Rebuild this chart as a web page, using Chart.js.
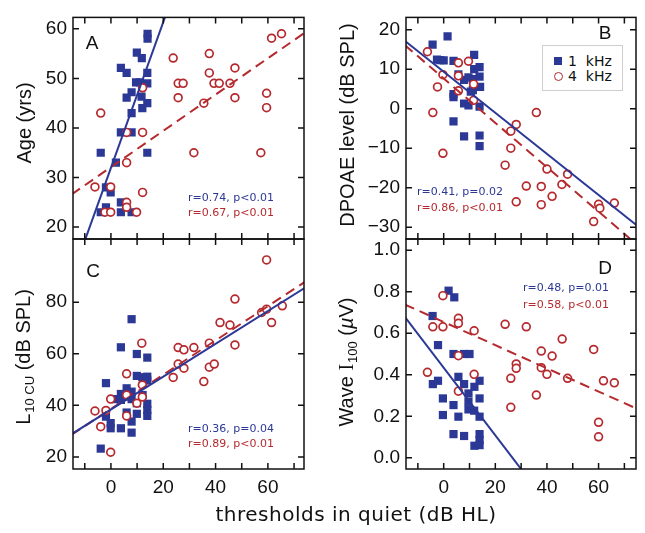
<!DOCTYPE html>
<html>
<head>
<meta charset="utf-8">
<script src="https://cdn.jsdelivr.net/npm/chart.js@4.4.0/dist/chart.umd.min.js"></script>
<style>
  body { margin: 0; background: #fff; }
  #fig { position: relative; width: 645px; height: 533px; overflow: hidden; font-family: "Liberation Sans", Arial, sans-serif; color: #111; }
  #fig canvas { position: absolute; left: 0; top: 0; }
  .ytitle { position: absolute; white-space: nowrap; font-size: 20px; line-height: 1; transform: translate(-50%, -50%) rotate(-90deg); }
  .ytitle sub { font-size: 13px; vertical-align: -4px; margin-left: 1px; }
  .letter { position: absolute; font-size: 19px; line-height: 1; transform: translate(-50%, -50%); }
  .stat { position: absolute; font-family: "DejaVu Sans", sans-serif; font-size: 11px; line-height: 1; white-space: pre; transform: translateY(-50%); }
  .blue { color: #2b3896; }
  .red { color: #b52a2e; }
  #xtitle { position: absolute; left: 356px; top: 514px; transform: translate(-50%, -50%); font-family: "DejaVu Sans", sans-serif; font-size: 20px; line-height: 1; white-space: nowrap; letter-spacing: 0.5px; }
  #legend { position: absolute; left: 542px; top: 45px; width: 79px; height: 44px; border: 1px solid #cfcfcf; background: #fff; font-family: "DejaVu Sans", sans-serif; font-size: 14px; }
  #legend .mk { position: absolute; box-sizing: border-box; }
  #legend .txt { position: absolute; left: 25px; line-height: 1; white-space: pre; transform: translateY(-50%); }
</style>
</head>
<body>
<div id="fig">
  <canvas id="chartA" width="645" height="533"></canvas>
  <canvas id="chartB" width="645" height="533"></canvas>
  <canvas id="chartC" width="645" height="533"></canvas>
  <canvas id="chartD" width="645" height="533"></canvas>

  <div class="ytitle" style="left:24px;top:123px">Age (yrs)</div>
  <div class="ytitle" style="left:347px;top:125px">DPOAE level (dB SPL)</div>
  <div class="ytitle" style="left:24px;top:357px">L<sub>10 CU</sub> (dB SPL)</div>
  <div class="ytitle" style="left:347px;top:362px">Wave <span style="font-family:'Liberation Serif'">I</span><sub>100</sub> (<i>µ</i>V)</div>

  <div class="letter" style="left:92px;top:42px">A</div>
  <div class="letter" style="left:605px;top:32px">B</div>
  <div class="letter" style="left:93px;top:270px">C</div>
  <div class="letter" style="left:605px;top:267px">D</div>

  <div class="stat blue" style="left:188px;top:197px">r=0.74, p&lt;0.01</div>
  <div class="stat red" style="left:188px;top:212px">r=0.67, p&lt;0.01</div>
  <div class="stat blue" style="left:417px;top:191px">r=0.41, p=0.02</div>
  <div class="stat red" style="left:417px;top:207px">r=0.86, p&lt;0.01</div>
  <div class="stat blue" style="left:188px;top:428px">r=0.36, p=0.04</div>
  <div class="stat red" style="left:188px;top:443px">r=0.89, p&lt;0.01</div>
  <div class="stat blue" style="left:523px;top:287px">r=0.48, p=0.01</div>
  <div class="stat red" style="left:523px;top:304px">r=0.58, p&lt;0.01</div>

  <div id="legend">
    <div class="mk" style="left:11px;top:11px;width:8px;height:8px;background:#2b3896"></div>
    <div class="txt" style="top:15px">1  kHz</div>
    <div class="mk" style="left:11px;top:26px;width:9px;height:9px;border:1.6px solid #b52a2e;border-radius:50%"></div>
    <div class="txt" style="top:30px">4  kHz</div>
  </div>

  <div id="xtitle">thresholds in quiet (dB HL)</div>
</div>

<script>
/* ====== DATA ====== */
const BLUE = '#2b3896';
const RED = '#b52a2e';

// shared x ticks (dB HL)
const xTicks = [-10, 0, 10, 20, 30, 40, 50, 60, 70];

// Panel A: age (yrs)
const ageTicks = [20, 30, 40, 50, 60];
const age1k = [[14,59],[14,58],[9.9,55.2],[11.8,54.1],[3.8,52.1],[6,51.1],[13.9,51.1],[9.6,49.2],[11.1,49.2],[13.9,49],
  [7.9,47.2],[6,46.1],[11.7,46.3],[13.9,45],[12,44],[7.9,43],[3.8,39.1],[7.9,39.1],[-3.9,35],[13.9,35],
  [1.9,33],[-1.9,28],[-0.1,27],[3.8,25],[-1.9,24],[-3.9,23],[3.8,23],[7.9,23]];
const age4k = [[23.8,54.1],[25.7,49],[27.6,49],[25.7,46.1],[12.1,48.1],[-3.9,43],[6,39.1],[12.1,39.1],[31.7,35],[6,33],
  [-6.1,28.1],[-0.1,28.1],[12.1,27],[6,25],[6,24],[-2.3,23],[-0.1,23],[9.8,23],[37.6,55],[37.6,51.1],
  [47.4,52.1],[39.4,49],[41.4,49],[45.5,49],[35.5,45],[47.4,46.1],[59.5,47],[59.5,44.1],[57.3,35],[61.4,58.1],[65.2,59]];
const ageFit1k = [[-15, 9.9], [25, 68.7]];
const ageFit4k = [[-15, 26.6], [75, 59.55]];

// Panel B: DPOAE level (dB SPL)
const dpTicks = [-30, -20, -10, 0, 10, 20];
const dp1k = [[-4.3,16.2],[1.5,18.3],[-2.6,12.4],[-1.3,12.3],[0,12.2],[3.8,12.1],[5.7,8.7],[7.9,7.3],[9.6,7.9],[11.3,7.5],
  [11.8,13.6],[11.8,10],[13.9,10.5],[13.9,8.1],[14.1,5.5],[10.5,4.3],[11.3,4.7],[3.8,3.7],[3.8,2.9],[7.9,1.3],
  [9.6,0.8],[13.9,0.5],[3.8,-3.2],[7.9,-7],[13.9,-6.8],[13.9,-9.5]];
const dp4k = [[-6.3,14.4],[5.7,11.6],[9.6,12],[-0.3,8.6],[5.7,8.3],[-2.4,5.5],[11.6,6.2],[5.7,4.5],[11.6,2.1],[-4.2,-1],
  [-0.3,-11.3],[35.9,-1],[28.1,-4],[26,-5.7],[26,-10],[23.8,-14.3],[40,-15.3],[48,-16.6],[32,-19.6],[37.8,-19.7],
  [45.8,-19.2],[42,-22.2],[28.1,-23.6],[37.8,-24.3],[60,-24.2],[60.5,-25.2],[66.1,-23.9],[58.1,-28.6]];
const dpFit1k = [[-15, 17.16], [75, -29.64]];
const dpFit4k = [[-15, 16.07], [75, -34.5]];

// Panel C: L10 CU (dB SPL)
const luTicks = [20, 40, 60, 80];
const lu1k = [[7.9,73.4],[3.8,62.5],[9.9,59.9],[13.9,58.5],[-1.9,48.6],[9.9,51.4],[12,50.9],[13.9,51.1],[13.9,49.6],[6,46.6],
  [7.9,45.3],[3.8,44.4],[6,43.4],[1.9,42.4],[3.8,42.1],[7.9,42.4],[12.1,44],[9.9,40.8],[13.9,40.6],[13.9,38.2],
  [13.9,35.9],[9.9,36.7],[6,37.2],[-1.9,35.6],[-0.1,33.1],[-0.1,31.1],[3.8,31.1],[7.9,33.7],[7.9,29.4],[-3.9,23.2]];
const lu4k = [[11.8,64.1],[6,52.2],[12,47.9],[6,44],[12,43.2],[-0.1,42.4],[9.9,40.8],[-6.1,37.8],[-1.9,38],[6,35.9],
  [-3.9,31.7],[-0.1,21.8],[25.7,62.4],[27.9,61.5],[31.7,62.4],[25.7,56],[27.9,54.4],[23.8,50.8],[59.5,96.4],[47.4,81.2],
  [41.7,72.1],[45.5,71.1],[57.6,76],[59.5,77.3],[65.5,78.6],[61.4,72.1],[37.6,64.1],[47.4,63.4],[37.6,54.8],[39.5,56],[35.5,49.2]];
const luFit1k = [[-15, 28.86], [75, 86.1]];
const luFit4k = [[-15, 28.64], [75, 88.4]];

// Panel D: wave I amplitude (uV)
const waveTicks = [0, 0.2, 0.4, 0.6, 0.8, 1.0];
const wave1k = [[1.9,0.805],[4.1,0.773],[-4.3,0.683],[-2.2,0.543],[3.8,0.5],[7.9,0.5],[10,0.5],[5.7,0.39],[-4.2,0.355],[-2.2,0.371],
  [7.9,0.355],[9.6,0.31],[11.9,0.342],[13.9,0.371],[-0.3,0.286],[3.8,0.254],[9.6,0.233],[11.8,0.227],[13.9,0.286],[-0.3,0.206],
  [5.7,0.198],[13.9,0.198],[3.8,0.114],[7.9,0.105],[13.9,0.114],[13.9,0.085],[11.9,0.058],[13.9,0.061],[9.6,0.27]];
const wave4k = [[-0.3,0.781],[5.7,0.672],[5.7,0.648],[-4.2,0.631],[-0.3,0.631],[11.8,0.612],[5.7,0.492],[-6.3,0.412],[11.8,0.402],[5.7,0.321],
  [23.8,0.643],[32,0.631],[45.9,0.572],[58.1,0.522],[37.8,0.514],[42,0.49],[28.1,0.452],[28.1,0.431],[37.8,0.434],[40,0.402],
  [26,0.383],[48,0.383],[61.9,0.371],[66.1,0.361],[35.9,0.302],[26,0.243],[60,0.171],[60,0.101]];
const waveFit1k = [[-15, 0.678], [35, -0.136]];
const waveFit4k = [[-15, 0.738], [75, 0.2355]];

/* ====== HELPERS ====== */
const toPts = arr => arr.map(([x, y]) => ({ x, y }));
const minus = v => (v < 0 ? '\u2212' + Math.abs(v) : String(v));

// frame + inward tick marks on all four sides
const frameTicks = {
  id: 'frameTicks',
  afterDatasetsDraw(chart) {
    const { ctx, chartArea: a, scales: { x, y } } = chart;
    const len = 6;
    ctx.save();
    ctx.strokeStyle = '#111';
    ctx.lineWidth = 1.5;
    ctx.strokeRect(a.left, a.top, a.right - a.left, a.bottom - a.top);
    ctx.beginPath();
    x.ticks.forEach(t => {
      const px = x.getPixelForValue(t.value);
      ctx.moveTo(px, a.top); ctx.lineTo(px, a.top + len);
      ctx.moveTo(px, a.bottom); ctx.lineTo(px, a.bottom - len);
    });
    y.ticks.forEach(t => {
      const py = y.getPixelForValue(t.value);
      ctx.moveTo(a.left, py); ctx.lineTo(a.left + len, py);
      ctx.moveTo(a.right, py); ctx.lineTo(a.right - len, py);
    });
    ctx.stroke();
    ctx.restore();
  }
};

/**
 * Build one panel; area = [left, top, right, bottom] of the plot box
 */
function makePanel(id, p) {
  const ctx = document.getElementById(id);
  const yW = 44;
  const xH = p.xLabels ? 34 : 0;
  const tickFont = { family: 'Liberation Sans', size: 19 };

  return new Chart(ctx.getContext('2d'), {
    type: 'scatter',
    data: {
      datasets: [
        { type: 'line', data: toPts(p.fit1k), borderColor: BLUE, borderWidth: 2, pointRadius: 0, fill: false },
        { type: 'line', data: toPts(p.fit4k), borderColor: RED, borderWidth: 2, borderDash: [10, 6], pointRadius: 0, fill: false },
        { data: toPts(p.d4k), pointStyle: 'circle', pointRadius: 3.9, borderWidth: 1.7, borderColor: RED, backgroundColor: '#fff' },
        { data: toPts(p.d1k), pointStyle: 'rect', pointRadius: 5.8, borderWidth: 0, backgroundColor: BLUE }
      ]
    },
    options: {
      responsive: false,
      animation: false,
      events: [],
      layout: { padding: { left: p.area[0] - yW, top: p.area[1], right: 645 - p.area[2], bottom: 533 - p.area[3] - xH } },
      plugins: { legend: { display: false }, tooltip: { enabled: false } },
      scales: {
        x: {
          type: 'linear', min: p.xMin, max: p.xMax,
          grid: { display: false, drawTicks: false }, border: { display: false },
          afterFit: s => { s.height = xH; },
          afterBuildTicks: s => { s.ticks = xTicks.map(v => ({ value: v })); },
          ticks: { display: p.xLabels, padding: 7, color: '#111', font: tickFont, maxRotation: 0, autoSkip: false,
                   callback: v => (v % 20 === 0 ? String(v) : '') }
        },
        y: {
          type: 'linear', min: p.yMin, max: p.yMax,
          grid: { display: false, drawTicks: false }, border: { display: false },
          afterFit: s => { s.width = yW; },
          afterBuildTicks: s => { s.ticks = p.yTicks.map(v => ({ value: v })); },
          ticks: { padding: 6, color: '#111', font: tickFont, autoSkip: false, callback: p.yFmt }
        }
      }
    },
    plugins: [frameTicks]
  });
}

makePanel('chartA', { area: [73, 8, 304, 239], xMin: -14.5, xMax: 73.8, yMin: 17.6, yMax: 62.3, yTicks: ageTicks,
  d1k: age1k, d4k: age4k, fit1k: ageFit1k, fit4k: ageFit4k, xLabels: false, yFmt: v => String(v) });
makePanel('chartB', { area: [406, 8, 636, 239], xMin: -14.6, xMax: 74.5, yMin: -33, yMax: 23.1, yTicks: dpTicks,
  d1k: dp1k, d4k: dp4k, fit1k: dpFit1k, fit4k: dpFit4k, xLabels: false, yFmt: minus });
makePanel('chartC', { area: [73, 239, 304, 469], xMin: -14.5, xMax: 73.8, yMin: 15.3, yMax: 104.5, yTicks: luTicks,
  d1k: lu1k, d4k: lu4k, fit1k: luFit1k, fit4k: luFit4k, xLabels: true, yFmt: v => String(v) });
makePanel('chartD', { area: [406, 239, 636, 469], xMin: -14.6, xMax: 74.5, yMin: -0.054, yMax: 1.054, yTicks: waveTicks,
  d1k: wave1k, d4k: wave4k, fit1k: waveFit1k, fit4k: waveFit4k, xLabels: true, yFmt: v => v.toFixed(1) });
</script>
</body>
</html>
